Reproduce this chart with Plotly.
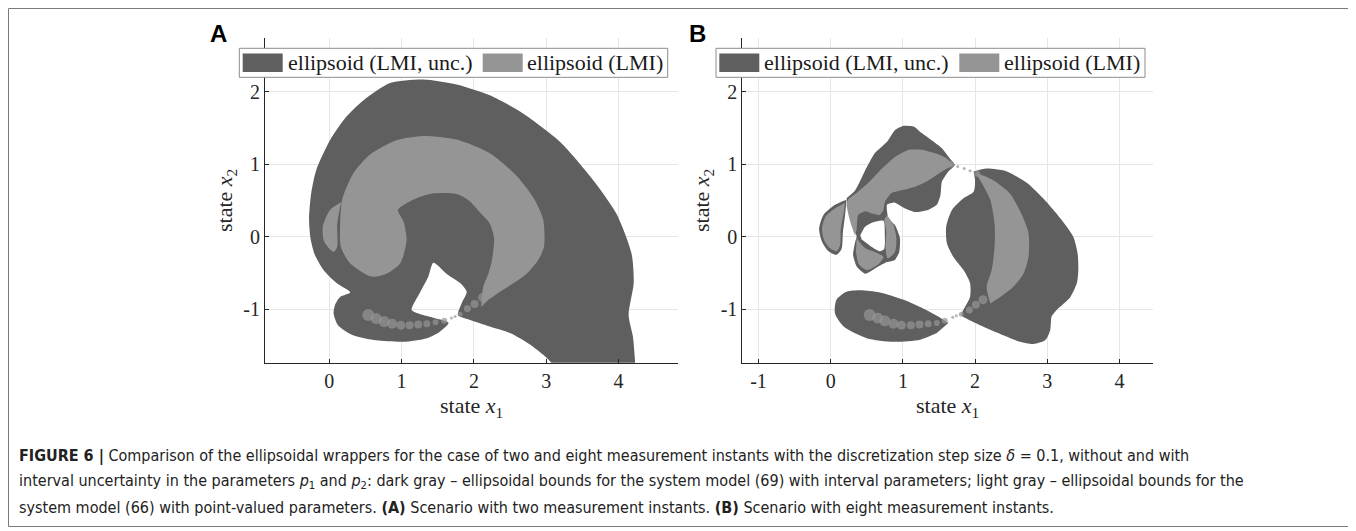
import plotly.graph_objects as go

# page body has an 8px margin: figure covers reference pixels 8..1356 x 8..531
OFF = 8
W, H = 1356 - OFF, 531 - OFF
DARK = "#5f5f5f"
LIGHT = "#959595"
AXC = "#262626"
GRID = "#e6e6e6"
SERIF = "Liberation Serif, Times New Roman, serif"
SANS = "Liberation Sans, Arial, sans-serif"
NARROW = "Liberation Sans Narrow, Arial Narrow, DejaVu Sans Condensed, sans-serif"

# ---------------- data: panel A (two measurement instants) ----------------
A_DARK_X = [4.25, 3.20, 3.07, 2.96, 2.78, 2.50, 2.22, 1.95, 1.78,
            1.83, 1.90, 1.81, 1.62, 1.44,
            1.37, 1.25, 1.14,
            1.30, 1.48, 1.65,
            1.53, 1.35, 1.02, 0.65, 0.33, 0.12, 0.06, 0.08, 0.15, 0.29,
            0.10, -0.08, -0.20, -0.26, -0.28, -0.25, -0.18, 0.01, 0.24, 0.47, 0.84,
            1.30, 1.76, 2.22, 2.68, 3.19, 3.65, 3.97, 4.18, 4.21, 4.14, 4.20, 4.23]
A_DARK_Y = [-2.00, -2.00, -1.74, -1.63, -1.49, -1.33, -1.24, -1.15, -1.08,
            -0.92, -0.76, -0.64, -0.51, -0.36,
            -0.55, -0.78, -1.01,
            -1.08, -1.13, -1.19,
            -1.31, -1.40, -1.45, -1.43, -1.36, -1.22, -1.06, -0.94, -0.83, -0.77,
            -0.64, -0.46, -0.25, -0.02, 0.25, 0.60, 0.92, 1.33, 1.66, 1.88, 2.12,
            2.17, 2.10, 1.95, 1.70, 1.31, 0.78, 0.32, -0.23, -0.64, -1.08, -1.38, -1.74]

A_ARC_X = [2.10, 2.13, 2.20, 2.25, 2.28, 2.22, 2.08, 1.93, 1.76, 1.39, 1.16, 0.95, 1.03, 1.07,
           0.98, 0.79, 0.58, 0.29, 0.16, 0.15, 0.18, 0.33, 0.56, 0.93, 1.30, 1.76, 2.22, 2.59,
           2.84, 2.96, 2.97, 2.89, 2.73, 2.55, 2.36, 2.20]
A_ARC_Y = [-0.97, -0.69, -0.51, -0.32, -0.02, 0.18, 0.34, 0.50, 0.59, 0.59, 0.51, 0.37, 0.20, -0.05,
           -0.37, -0.51, -0.55, -0.37, -0.14, 0.18, 0.52, 0.87, 1.13, 1.33, 1.39, 1.34, 1.15, 0.84,
           0.51, 0.23, -0.14, -0.32, -0.51, -0.64, -0.76, -0.87]

A_LENS_X = [0.17, 0.01, -0.09, -0.07, 0.06, 0.11, 0.11, 0.15]
A_LENS_Y = [0.48, 0.37, 0.14, -0.07, -0.21, -0.14, 0.18, 0.41]

A_DOTS_X = [0.54, 0.65, 0.76, 0.87, 0.99, 1.11, 1.23, 1.35, 1.47, 1.59, 1.69, 1.74,
            1.81, 1.91, 2.01, 2.12, 2.22]
A_DOTS_Y = [-1.08, -1.13, -1.17, -1.20, -1.22, -1.22, -1.21, -1.20, -1.18, -1.16, -1.12, -1.10,
            -1.07, -0.99, -0.93, -0.84, -0.78]
A_DOTS_S = [12, 11, 11, 10, 9, 8, 8, 7, 6, 6, 3, 3,
            5, 7, 8, 9, 10]

# ---------------- data: panel B (eight measurement instants) ----------------
B_LOBE_X = [1.63, 1.49, 1.28, 1.01, 0.68, 0.41, 0.22, 0.08, 0.06, 0.18, 0.50, 0.87, 1.24, 1.47]
B_LOBE_Y = [-1.19, -1.10, -0.99, -0.87, -0.77, -0.74, -0.76, -0.87, -1.06, -1.24, -1.40, -1.45, -1.42, -1.33]

B_RIGHT_X = [1.98, 2.16, 2.44, 2.72, 2.98, 3.20, 3.36, 3.42, 3.43, 3.41, 3.32, 3.13, 3.06, 3.04,
             2.97, 2.81, 2.62, 2.39, 2.11, 1.88, 1.81, 1.86, 1.93, 1.93, 1.84, 1.70, 1.61, 1.60,
             1.68, 1.84, 1.98, 2.00]
B_RIGHT_Y = [0.90, 0.94, 0.90, 0.74, 0.49, 0.23, 0.00, -0.23, -0.46, -0.64, -0.83, -1.01, -1.10, -1.29,
             -1.43, -1.48, -1.45, -1.36, -1.24, -1.13, -1.08, -0.97, -0.83, -0.64, -0.46, -0.28, -0.09, 0.14,
             0.37, 0.53, 0.62, 0.78]

B_BAND_X = [2.21, 2.16, 2.23, 2.27, 2.27, 2.21, 2.11, 2.04, 2.02, 2.25, 2.48, 2.64, 2.74, 2.74,
            2.67, 2.53, 2.35]
B_BAND_Y = [-0.92, -0.69, -0.46, -0.14, 0.18, 0.51, 0.71, 0.83, 0.87, 0.78, 0.60, 0.32, 0.05, -0.28,
            -0.51, -0.69, -0.83]

B_TOP_X = [0.22, 0.34, 0.48, 0.61, 0.78, 0.89, 1.01, 1.15, 1.26, 1.40, 1.54, 1.65, 1.72,
           1.63, 1.54, 1.52, 1.47, 1.35, 1.17, 1.03, 0.89, 0.78,
           0.80, 0.89, 0.96, 0.95, 0.89, 0.78, 0.66, 0.48, 0.36, 0.31, 0.34, 0.36, 0.30, 0.25]
B_TOP_Y = [0.53, 0.64, 0.92, 1.15, 1.31, 1.47, 1.53, 1.52, 1.43, 1.33, 1.22, 1.08, 0.99,
           0.90, 0.76, 0.57, 0.44, 0.37, 0.34, 0.39, 0.47, 0.44,
           0.25, 0.16, -0.02, -0.21, -0.32, -0.35, -0.41, -0.51, -0.41, -0.25, -0.07, 0.00, 0.18, 0.38]

B_TOPL_X = [1.70, 1.54, 1.36, 1.17, 0.98, 0.84, 0.75, 0.73, 0.68, 0.57, 0.48, 0.38, 0.36, 0.34,
            0.27, 0.22, 0.24, 0.38, 0.54, 0.71, 0.89, 1.08, 1.26, 1.45, 1.61]
B_TOPL_Y = [0.99, 0.90, 0.78, 0.69, 0.64, 0.60, 0.48, 0.37, 0.30, 0.32, 0.35, 0.30, 0.11, 0.02,
            0.21, 0.44, 0.51, 0.62, 0.76, 0.94, 1.10, 1.20, 1.20, 1.15, 1.08]

B_PET1_X = [0.78, 0.87, 0.91, 0.89, 0.79, 0.76, 0.77, 0.74]
B_PET1_Y = [0.30, 0.16, -0.02, -0.21, -0.30, -0.16, 0.07, 0.23]
B_PET2_X = [0.36, 0.48, 0.61, 0.73, 0.66, 0.50, 0.39, 0.35]
B_PET2_Y = [-0.02, -0.16, -0.21, -0.28, -0.38, -0.46, -0.38, -0.20]

B_HOLE_X = [0.41, 0.48, 0.59, 0.73, 0.75, 0.74, 0.68, 0.54, 0.43]
B_HOLE_Y = [0.02, 0.14, 0.20, 0.22, 0.02, -0.17, -0.20, -0.12, -0.04]

B_LEFT_X = [0.22, 0.06, -0.10, -0.16, -0.12, -0.03, 0.08, 0.15, 0.17, 0.20]
B_LEFT_Y = [0.51, 0.44, 0.30, 0.11, -0.07, -0.20, -0.25, -0.17, 0.07, 0.30]
B_LEFTL_X = [0.20, 0.06, -0.07, -0.12, -0.09, -0.01, 0.08, 0.13, 0.14, 0.18]
B_LEFTL_Y = [0.47, 0.39, 0.28, 0.11, -0.05, -0.16, -0.20, -0.12, 0.11, 0.32]

B_DOTS_X = [0.54, 0.65, 0.75, 0.87, 0.98, 1.11, 1.23, 1.35, 1.47, 1.58, 1.69, 1.74,
            1.81, 1.92, 2.01, 2.11, 2.03, 1.66, 1.76, 1.85, 1.93]
B_DOTS_Y = [-1.08, -1.12, -1.16, -1.20, -1.22, -1.22, -1.21, -1.20, -1.19, -1.16, -1.11, -1.09,
            -1.07, -1.01, -0.94, -0.87, 0.87, 1.00, 0.97, 0.94, 0.91]
B_DOTS_S = [12, 11, 11, 10, 9, 8, 8, 7, 6, 6, 3, 3,
            5, 7, 8, 9, 6, 7, 3, 3, 3]

X_TICKS_A = [0, 1, 2, 3, 4]
X_TICKS_B = [-1, 0, 1, 2, 3, 4]
Y_TICKS = [-1, 0, 1, 2]
LEGEND_LABELS = ["ellipsoid (LMI, unc.)", "ellipsoid (LMI)"]

# ---------------- figure ----------------
fig = go.Figure()


def poly(xs, ys, color, ax, smooth=0.7):
    line = dict(width=0, color=color)
    if smooth:
        line.update(shape="spline", smoothing=smooth)
    fig.add_trace(go.Scatter(x=xs, y=ys, mode="lines", fill="toself", fillcolor=color,
                             line=line, hoverinfo="skip",
                             showlegend=False, xaxis="x" + ax, yaxis="y" + ax))


def dots(xs, ys, ss, color, ax):
    fig.add_trace(go.Scatter(x=xs, y=ys, mode="markers",
                             marker=dict(size=ss, color=color, line=dict(width=0)),
                             hoverinfo="skip", showlegend=False, xaxis="x" + ax, yaxis="y" + ax))


# panel A
poly(A_DARK_X, A_DARK_Y, DARK, "")
poly(A_ARC_X, A_ARC_Y, LIGHT, "")
poly(A_LENS_X, A_LENS_Y, LIGHT, "")
dots(A_DOTS_X, A_DOTS_Y, A_DOTS_S, LIGHT, "")

# panel B
poly(B_LOBE_X, B_LOBE_Y, DARK, "2")
poly(B_RIGHT_X, B_RIGHT_Y, DARK, "2")
poly(B_TOP_X, B_TOP_Y, DARK, "2", 0.5)
poly(B_LEFT_X, B_LEFT_Y, DARK, "2")
poly(B_BAND_X, B_BAND_Y, LIGHT, "2")
poly(B_TOPL_X, B_TOPL_Y, LIGHT, "2", 0.5)
poly(B_PET1_X, B_PET1_Y, LIGHT, "2")
poly(B_PET2_X, B_PET2_Y, LIGHT, "2")
poly(B_LEFTL_X, B_LEFTL_Y, LIGHT, "2")
poly(B_HOLE_X, B_HOLE_Y, "white", "2")
dots(B_DOTS_X, B_DOTS_Y, B_DOTS_S, LIGHT, "2")


def px(x):
    return (x - OFF) / W


def py(y):
    return 1 - (y - OFF) / H


ydom = [py(362.7), py(38)]
common_ax = dict(showline=True, linecolor=AXC, linewidth=1, ticks="inside", ticklen=4,
                 tickcolor=AXC, showgrid=True, gridcolor=GRID, gridwidth=1, zeroline=False,
                 tickfont=dict(family=SERIF, size=20, color=AXC), mirror=False)

fig.update_layout(
    width=W, height=H, margin=dict(l=0, r=0, t=0, b=0),
    paper_bgcolor="white", plot_bgcolor="white", showlegend=False,
    xaxis=dict(domain=[px(265), px(678.3)], range=[-0.889, 4.827], anchor="y",
               tickvals=X_TICKS_A, ticktext=[str(v) for v in X_TICKS_A], **common_ax),
    yaxis=dict(domain=ydom, range=[-1.738, 2.741], anchor="x",
               tickvals=Y_TICKS, ticktext=[str(v) for v in Y_TICKS], **common_ax),
    xaxis2=dict(domain=[px(742.3), px(1152.7)], range=[-1.224, 4.460], anchor="y2",
                tickvals=X_TICKS_B, ticktext=[str(v) for v in X_TICKS_B], **common_ax),
    yaxis2=dict(domain=ydom, range=[-1.738, 2.741], anchor="x2",
                tickvals=Y_TICKS, ticktext=[str(v) for v in Y_TICKS], **common_ax),
)

shapes = []
annotations = []

# outer frame
shapes.append(dict(type="rect", xref="paper", yref="paper", x0=px(8.5), x1=px(1349.5),
                   y0=py(526.5), y1=py(8.5), line=dict(color="#7a7a7a", width=1), layer="above"))

# manual legends
for (lx0, lx1, sw1, tx1, sw2, tx2) in [(239.3, 667.7, 242.7, 285.5, 482.7, 525.0),
                                        (716.0, 1145.0, 719.3, 761.5, 959.3, 1001.5)]:
    shapes.append(dict(type="rect", xref="paper", yref="paper", x0=px(lx0), x1=px(lx1),
                       y0=py(77.3), y1=py(48.3), fillcolor="white",
                       line=dict(color="#8c8c8c", width=1), layer="above"))
    shapes.append(dict(type="rect", xref="paper", yref="paper", x0=px(sw1), x1=px(sw1 + 40),
                       y0=py(72), y1=py(53.5), fillcolor=DARK, line=dict(width=0), layer="above"))
    shapes.append(dict(type="rect", xref="paper", yref="paper", x0=px(sw2), x1=px(sw2 + 40),
                       y0=py(72), y1=py(53.5), fillcolor=LIGHT, line=dict(width=0), layer="above"))
    for tx, lab in [(tx1, LEGEND_LABELS[0]), (tx2, LEGEND_LABELS[1])]:
        annotations.append(dict(xref="paper", yref="paper", x=px(tx), y=py(63), text=lab,
                                showarrow=False, xanchor="left", yanchor="middle",
                                font=dict(family=SERIF, size=22, color="#1a1a1a")))

# panel letters
annotations.append(dict(xref="paper", yref="paper", x=px(218), y=py(33.5), text="<b>A</b>",
                        showarrow=False, xanchor="center", yanchor="middle",
                        font=dict(family=SANS, size=24, color="black")))
annotations.append(dict(xref="paper", yref="paper", x=px(697.5), y=py(33), text="<b>B</b>",
                        showarrow=False, xanchor="center", yanchor="middle",
                        font=dict(family=SANS, size=24, color="black")))

# axis titles
for cx in [471.6, 947.0]:
    annotations.append(dict(xref="paper", yref="paper", x=px(cx), y=py(407),
                            text="state <i>x</i><sub>1</sub>", showarrow=False,
                            xanchor="center", yanchor="middle",
                            font=dict(family=SERIF, size=22, color=AXC)))
for cx in [225.5, 702.5]:
    annotations.append(dict(xref="paper", yref="paper", x=px(cx), y=py(200.5),
                            text="state <i>x</i><sub>2</sub>", showarrow=False, textangle=-90,
                            xanchor="center", yanchor="middle",
                            font=dict(family=SERIF, size=22, color=AXC)))

# caption
CAPTION = [
    "<b>FIGURE 6 |</b> Comparison of the ellipsoidal wrappers for the case of two and eight measurement "
    "instants with the discretization step size <i>δ</i> = 0.1, without and with",
    "interval uncertainty in the parameters <i>p</i><sub>1</sub> and <i>p</i><sub>2</sub>: dark gray – "
    "ellipsoidal bounds for the system model (69) with interval parameters; light gray – ellipsoidal "
    "bounds for the",
    "system model (66) with point-valued parameters. <b>(A)</b> Scenario with two measurement instants. "
    "<b>(B)</b> Scenario with eight measurement instants.",
]
for i, line in enumerate(CAPTION):
    annotations.append(dict(xref="paper", yref="paper", x=px(17), y=py(456 + 25.5 * i), text=line,
                            showarrow=False, xanchor="left", yanchor="middle",
                            font=dict(family=NARROW, size=16, color="#222222")))

fig.update_layout(shapes=shapes, annotations=annotations)
fig.write_html("out.html")
